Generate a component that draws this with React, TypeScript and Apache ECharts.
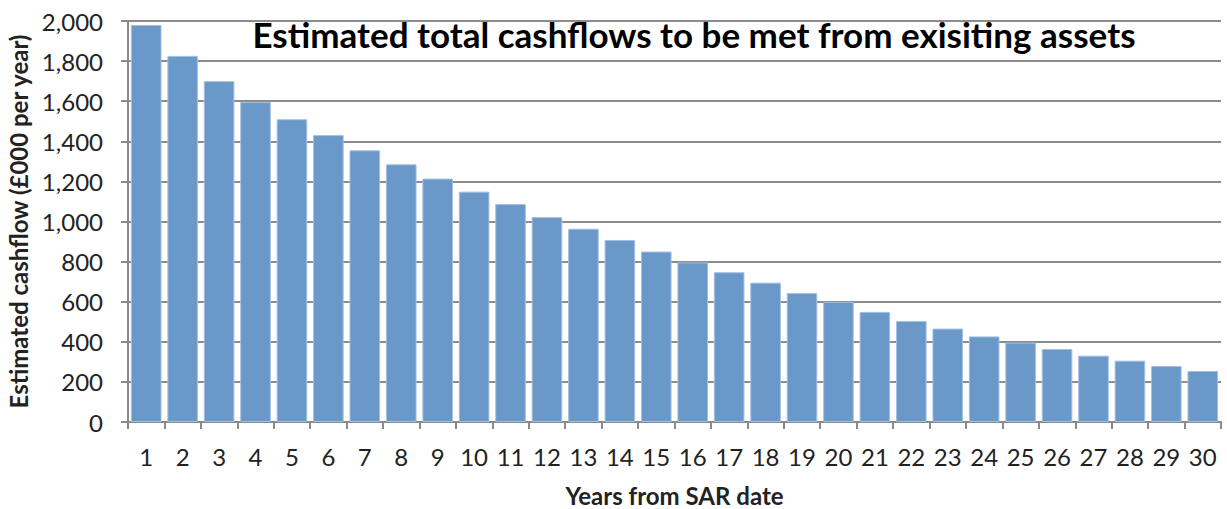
import React, { useEffect, useRef } from "react";
import * as echarts from "echarts";

const years = Array.from({ length: 30 }, (_, i) => String(i + 1));
const cashflows = [
  1980, 1826, 1700, 1596, 1510, 1431, 1355, 1285, 1214, 1149,
  1087, 1022, 964, 908, 850, 796, 747, 695, 643, 599,
  549, 504, 466, 427, 396, 364, 331, 306, 279, 254,
];
const titleText = "Estimated total cashflows to be met from exisiting assets";
const yAxisName = "Estimated cashflow (£000 per year)";
const xAxisName = "Years from SAR date";

export default function App() {
  const ref = useRef<HTMLDivElement>(null);
  useEffect(() => {
    if (!ref.current) return;
    const chart = echarts.init(ref.current, null, { renderer: "svg" });
    const font = "Lato, 'Open Sans', sans-serif";
    chart.setOption({
      animation: false,
      backgroundColor: "#ffffff",
      title: {
        text: titleText,
        left: 694,
        top: 16,
        padding: 0,
        textAlign: "center",
        textStyle: { fontFamily: font, fontWeight: "bold", fontSize: 35, color: "#000" },
      },
      grid: { left: 128, right: 6, top: 21, bottom: 87, containLabel: false, outerBoundsMode: "none" },
      xAxis: {
        type: "category",
        data: years,
        name: xAxisName,
        nameLocation: "middle",
        nameGap: 61,
        nameTextStyle: { fontFamily: font, fontWeight: "bold", fontSize: 24, color: "#222" },
        axisLine: { lineStyle: { color: "#8a8a8a", width: 2 } },
        axisTick: { show: true, length: 7, interval: 0, lineStyle: { color: "#8a8a8a", width: 2 } },
        axisLabel: { fontFamily: font, fontSize: 24, color: "#222", margin: 22, interval: 0 },
      },
      yAxis: {
        type: "value",
        min: 0,
        max: 2000,
        interval: 200,
        name: yAxisName,
        nameLocation: "middle",
        nameGap: 92,
        nameRotate: 90,
        nameTextStyle: { fontFamily: font, fontWeight: "bold", fontSize: 24, color: "#222" },
        axisLine: { show: true, lineStyle: { color: "#8a8a8a", width: 2 } },
        axisTick: { show: true, length: 7, lineStyle: { color: "#8a8a8a", width: 2 } },
        axisLabel: {
          fontFamily: font,
          fontSize: 24,
          color: "#222",
          margin: 25,
          formatter: (v: number) => v.toLocaleString("en-GB"),
        },
        splitLine: { lineStyle: { color: "#8c8c8c", width: 2 } },
      },
      series: [
        {
          type: "bar",
          data: cashflows,
          barCategoryGap: "16%",
          itemStyle: { color: "#6a98c8", borderColor: "#a3c0e3", borderWidth: 1 },
        },
      ],
    });
    return () => chart.dispose();
  }, []);
  return (
    <div
      ref={ref}
      style={{ position: "fixed", left: 0, top: 0, width: 1227, height: 509, background: "#fff" }}
    />
  );
}
